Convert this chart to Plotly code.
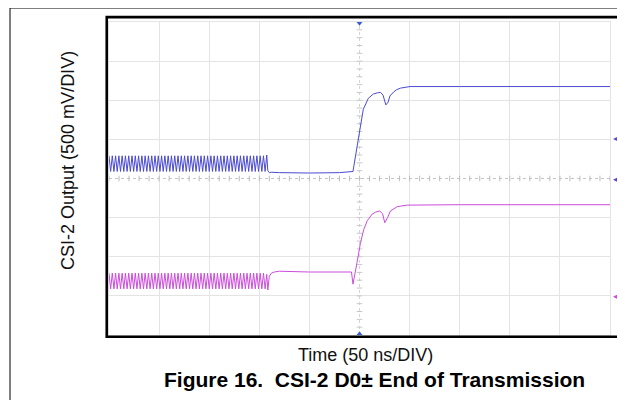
import plotly.graph_objects as go

# ---------------- data (time in ns, amplitude in divisions of 500 mV) ----------------
OSC_DT = 1.64  # ns between successive oscillation extremes (sampling of the HS burst)

CH1_OSC = [
    0.58, 0.18, 0.58, 0.18, 0.58, 0.18, 0.58, 0.18, 0.58, 0.18, 0.58, 0.18,
    0.58, 0.18, 0.58, 0.18, 0.58, 0.18, 0.58, 0.18, 0.58, 0.18, 0.58, 0.18,
    0.58, 0.18, 0.58, 0.18, 0.58, 0.18, 0.58, 0.18, 0.58, 0.18, 0.58, 0.18,
    0.58, 0.18, 0.58, 0.18, 0.58, 0.18, 0.58, 0.18, 0.58, 0.18, 0.58, 0.18,
    0.58, 0.18, 0.58, 0.18, 0.58, 0.18, 0.58, 0.18, 0.58, 0.18, 0.58, 0.18,
    0.58, 0.18, 0.58, 0.18, 0.58, 0.18, 0.58, 0.18, 0.58, 0.18, 0.58, 0.18,
    0.58, 0.18, 0.58, 0.18, 0.58, 0.18, 0.58, 0.18, 0.58, 0.18, 0.58, 0.18,
    0.58, 0.18, 0.58, 0.18, 0.58, 0.18, 0.58, 0.18, 0.58, 0.18, 0.58, 0.18,
    0.60,
]
CH1_TAIL_T = [158.5, 160.0, 162.0, 170.0, 200.0, 230.0, 242.5, 243.5, 244.5, 247.2,
              250.5, 253.8, 258.8, 263.8, 268.0, 271.0, 273.5, 276.3, 278.5, 280.4,
              284.0, 287.1, 291.0, 295.4, 300.4, 350.0, 400.0, 450.0, 500.0]
CH1_TAIL_V = [0.20, 0.15, 0.16, 0.15, 0.14, 0.15, 0.17, 0.18, 0.34, 0.75,
              1.35, 1.77, 2.05, 2.16, 2.19, 2.20, 2.13, 1.88, 1.95, 2.11,
              2.21, 2.27, 2.31, 2.33, 2.35, 2.35, 2.35, 2.34, 2.35]

CH2_OSC = [
    -2.42, -2.82, -2.42, -2.82, -2.42, -2.82, -2.42, -2.82, -2.42, -2.82, -2.42, -2.82,
    -2.42, -2.82, -2.42, -2.82, -2.42, -2.82, -2.42, -2.82, -2.42, -2.82, -2.42, -2.82,
    -2.42, -2.82, -2.42, -2.82, -2.42, -2.82, -2.42, -2.82, -2.42, -2.82, -2.42, -2.82,
    -2.42, -2.82, -2.42, -2.82, -2.42, -2.82, -2.42, -2.82, -2.42, -2.82, -2.42, -2.82,
    -2.42, -2.82, -2.42, -2.82, -2.42, -2.82, -2.42, -2.82, -2.42, -2.82, -2.42, -2.82,
    -2.42, -2.82, -2.42, -2.82, -2.42, -2.82, -2.42, -2.82, -2.42, -2.82, -2.42, -2.82,
    -2.42, -2.82, -2.42, -2.82, -2.42, -2.82, -2.42, -2.82, -2.42, -2.82, -2.42, -2.82,
    -2.42, -2.82, -2.42, -2.82, -2.42, -2.82, -2.42, -2.82, -2.42, -2.82, -2.42, -2.82,
    -2.45,
]
CH2_TAIL_T = [158.5, 160.0, 162.0, 165.0, 170.0, 200.0, 230.0, 242.0, 243.5, 245.0,
              247.5, 251.0, 254.3, 257.7, 262.6, 266.0, 270.2, 273.0, 275.2, 278.0,
              280.9, 287.6, 297.6, 350.0, 400.0, 450.0, 500.0]
CH2_TAIL_V = [-2.85, -2.50, -2.42, -2.39, -2.37, -2.39, -2.39, -2.39, -2.70, -2.45,
              -2.15, -1.64, -1.30, -1.08, -0.91, -0.86, -0.83, -0.90, -1.13, -1.00,
              -0.83, -0.72, -0.68, -0.67, -0.67, -0.66, -0.67]

TRIGGER_LEVEL = 1.02     # div
CH1_OFFSET = 0.0         # div
CH2_OFFSET = -3.0        # div
TRIGGER_TIME = 250.0     # ns

X_TITLE = "Time (50 ns/DIV)"
Y_TITLE = "CSI-2 Output (500 mV/DIV)"
CAPTION = "Figure 16.\u00a0 CSI-2 D0\u00b1 End of Transmission"

# ---------------- build ----------------
ch1_t = [i * OSC_DT for i in range(len(CH1_OSC))] + CH1_TAIL_T
ch1_v = CH1_OSC + CH1_TAIL_V
ch2_t = [i * OSC_DT for i in range(len(CH2_OSC))] + CH2_TAIL_T
ch2_v = CH2_OSC + CH2_TAIL_V

BLUE = "#4a4ad2"
MAGENTA = "#cc4cdc"
GRID = "#e4e4e4"
FONT = "Liberation Sans, Arial, sans-serif"

fig = go.Figure()

# center graticule minor ticks
hx = [10 * i for i in range(51)]
fig.add_trace(go.Scatter(x=hx, y=[0] * len(hx), mode="markers",
                         marker=dict(symbol="line-ns", size=4, line=dict(color="#bdbdbd", width=1)),
                         hoverinfo="skip", showlegend=False))
vy = [-4 + 0.2 * i for i in range(41)]
fig.add_trace(go.Scatter(x=[TRIGGER_TIME] * len(vy), y=vy, mode="markers",
                         marker=dict(symbol="line-ew", size=4, line=dict(color="#c8c8c8", width=1)),
                         hoverinfo="skip", showlegend=False))

fig.add_trace(go.Scatter(x=ch1_t, y=ch1_v, mode="lines",
                         line=dict(color=BLUE, width=1.0), showlegend=False))
fig.add_trace(go.Scatter(x=ch2_t, y=ch2_v, mode="lines",
                         line=dict(color=MAGENTA, width=1.0), showlegend=False))

# trigger position markers at top / bottom
fig.add_trace(go.Scatter(x=[TRIGGER_TIME, TRIGGER_TIME], y=[3.97, -3.97], mode="markers",
                         marker=dict(symbol=["triangle-down", "triangle-up"], size=5, color="#3a5ad0"),
                         hoverinfo="skip", showlegend=False, cliponaxis=False))

fig.update_xaxes(range=[0, 500], tickvals=[0, 50, 100, 150, 200, 300, 350, 400, 450, 500],
                 showticklabels=False, ticks="", showgrid=True, gridcolor=GRID, gridwidth=1,
                 zeroline=False, showline=True, mirror=True, linecolor=GRID, linewidth=1)
fig.update_yaxes(range=[-4, 4], tickvals=[-4, -3, -2, -1, 1, 2, 3, 4],
                 showticklabels=False, ticks="", showgrid=True, gridcolor=GRID, gridwidth=1,
                 zeroline=False, showline=True, mirror=True, linecolor=GRID, linewidth=1)

shapes = [
    # dotted center lines
    dict(type="line", xref="x", yref="y", x0=0, x1=500, y0=0, y1=0,
         line=dict(color="#c4c4c4", width=1, dash="dot"), layer="below"),
    dict(type="line", xref="x", yref="y", x0=TRIGGER_TIME, x1=TRIGGER_TIME, y0=-4, y1=4,
         line=dict(color="#d4d4d4", width=1, dash="dot"), layer="below"),
    # thick black scope frame
    dict(type="rect", xref="paper", yref="paper", x0=-0.0045, x1=1.08, y0=-0.0055, y1=1.0155,
         line=dict(color="black", width=2.6), fillcolor="rgba(0,0,0,0)"),
    # outer thin page border
    dict(type="rect", xref="paper", yref="paper", x0=-0.1976, x1=1.1, y0=-0.3, y1=1.0447,
         line=dict(color="black", width=1), fillcolor="rgba(0,0,0,0)"),
]

annotations = [
    dict(text=Y_TITLE, xref="paper", yref="paper", x=-0.082, y=0.559, showarrow=False,
         textangle=-90, font=dict(family=FONT, size=18, color="#111"),
         xanchor="center", yanchor="middle"),
    dict(text=X_TITLE, xref="paper", yref="paper", x=0.512, y=-0.063, showarrow=False,
         font=dict(family=FONT, size=18, color="#111"), xanchor="center", yanchor="middle"),
    dict(text="<b>" + CAPTION + "</b>", xref="paper", yref="paper", x=0.529, y=-0.142,
         showarrow=False, font=dict(family=FONT, size=21, color="#000"),
         xanchor="center", yanchor="middle"),
    dict(text="\u25c2 T", xref="paper", yref="y", x=1.002, y=TRIGGER_LEVEL, showarrow=False,
         font=dict(family=FONT, size=8, color=BLUE), xanchor="left", yanchor="middle"),
    dict(text="\u25c21", xref="paper", yref="y", x=1.002, y=CH1_OFFSET, showarrow=False,
         font=dict(family=FONT, size=9, color=BLUE), xanchor="left", yanchor="middle"),
    dict(text="\u25c22", xref="paper", yref="y", x=1.002, y=CH2_OFFSET, showarrow=False,
         font=dict(family=FONT, size=9, color=MAGENTA), xanchor="left", yanchor="middle"),
]

# page body has an 8 px margin: shrink the figure so it fits the window without scrollbars
fig.update_layout(
    width=617, height=392,
    margin=dict(l=101, r=15, t=14, b=65),
    paper_bgcolor="white", plot_bgcolor="white",
    shapes=shapes, annotations=annotations,
    font=dict(family=FONT),
)

fig.write_html("out.html")
